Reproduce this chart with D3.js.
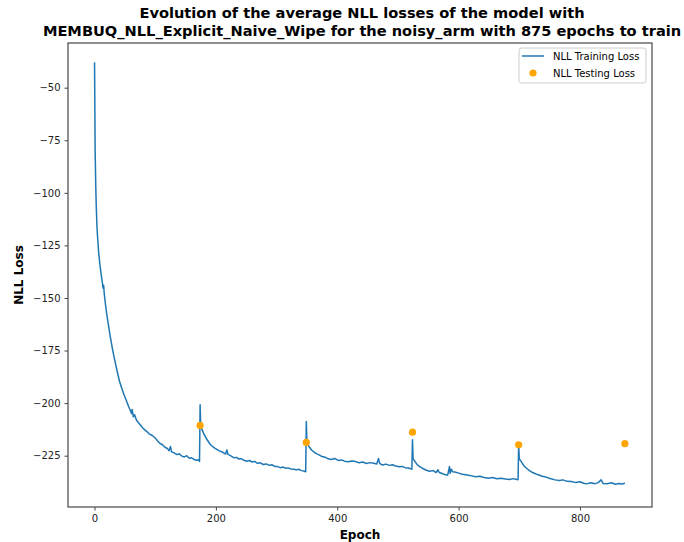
<!DOCTYPE html>
<html>
<head>
<meta charset="utf-8">
<script src="https://cdn.jsdelivr.net/npm/d3@7"></script>
<style>
  body { margin: 0; background: #fff; }
  svg { font-family: "DejaVu Sans", sans-serif; }
</style>
</head>
<body>
<div class="chartBox"></div>
<script>
// training loss (epoch / value)
var trainEpochs = [0, 1, 2, 3, 4, 5, 7, 9, 11, 13, 14, 15, 16, 18, 20, 23, 26, 30, 34, 37,
    41, 45, 48, 52, 56, 59, 61, 62, 64, 66, 69, 72, 76, 80, 85, 90, 95, 100, 104, 108,
    112, 116, 120, 123, 125, 127, 131, 135, 140, 144, 148, 152, 156, 160, 164, 168, 171, 173, 174, 175,
    177, 180, 185, 191, 198, 205, 212, 216, 218, 220, 224, 230, 234, 238, 242, 246, 251, 255, 260, 264,
    268, 273, 278, 283, 288, 292, 297, 301, 306, 311, 315, 319, 324, 328, 333, 337, 341, 345, 348, 349,
    350, 353, 358, 364, 370, 375, 380, 385, 390, 396, 402, 407, 412, 418, 424, 430, 436, 442, 448, 454,
    460, 465, 468, 470, 475, 480, 486, 491, 496, 502, 507, 512, 517, 521, 523, 524, 525, 528, 532, 538,
    545, 552, 558, 563, 566, 568, 573, 578, 582, 585, 586, 588, 590, 594, 600, 606, 612, 618, 622, 628,
    635, 642, 649, 656, 663, 670, 677, 684, 690, 696, 698, 699, 700, 703, 708, 715, 722, 731, 738, 745,
    752, 759, 766, 772, 779, 786, 793, 800, 806, 811, 818, 825, 830, 835, 838, 845, 852, 858, 865, 870, 874];
var trainLoss = [-37.9, -80, -97, -108, -116, -121, -129, -134.5, -139, -143, -145.3, -144, -148, -153, -157.5, -163, -168.5, -175, -180.5, -184.5,
    -189.5, -193, -195.5, -198.5, -201.5, -203.5, -205, -203, -206.5, -205.5, -208, -209.2, -210.5, -212, -213.2, -214.6, -215.4, -216.6, -218, -219.2,
    -219.8, -221, -221.6, -222.6, -220.6, -223.2, -223.6, -224.4, -224.2, -225.2, -225.6, -225, -226.2, -226, -226.8, -227.2, -226.9, -227.7, -200.8, -211,
    -212.5, -214.5, -217.2, -219.8, -221.4, -222.6, -223.5, -224.2, -222.3, -224.4, -225, -226, -225.8, -226.6, -226.4, -227.2, -227.6, -227.3, -228, -227.7,
    -228.6, -228.4, -229.2, -228.9, -229.6, -229.3, -230.1, -230.1, -230.7, -230.4, -231, -230.8, -231.3, -231.4, -231.7, -231.5, -232.1, -232.3, -232.6, -208.7,
    -218.5, -220.5, -222.4, -223.8, -224.6, -225.4, -225.7, -226.5, -226.8, -226.3, -227.3, -227, -227.6, -227.9, -227.5, -227.8, -228.4, -228, -228.7, -228.3,
    -228.6, -228.9, -226.3, -228.8, -229.4, -229, -229.6, -229.3, -229.9, -230.3, -230.1, -230.7, -230.9, -231.2, -231.4, -217.4, -226.5, -227.7, -229.4, -230.6,
    -231.7, -232.4, -232.1, -233, -231.7, -233, -233.5, -234.1, -234.2, -230.1, -233.4, -231.4, -232.6, -232.8, -233.3, -233.8, -234.1, -234.4, -234.6, -235,
    -234.8, -235.4, -235.7, -235.4, -236, -235.7, -236.1, -236.3, -235.9, -236.3, -236.4, -219.8, -226.5, -227.7, -230, -231.7, -233, -234.1, -234.8, -235.3,
    -236, -236.5, -236.8, -236.5, -237.2, -237.3, -237.8, -237.4, -238.1, -238.4, -237.9, -238.3, -237.8, -236.5, -238.2, -238.3, -237.9, -238.6, -238.2, -238.5, -238];

// testing loss (one point every 175 epochs)
var testEpochs = [174, 349, 524, 699, 874];
var testLoss = [-210.6, -218.7, -213.8, -219.8, -219.3];

var xTicks = [0, 200, 400, 600, 800];
var yTicks = [-50, -75, -100, -125, -150, -175, -200, -225];

var width = 684, height = 542;
var margin = { top: 43, right: 32, bottom: 35, left: 68 };

var svg = d3.select('.chartBox')
    .append('svg')
    .attr('width', width)
    .attr('height', height);

var x = d3.scaleLinear()
    .domain([-43.75, 918.75])
    .range([margin.left, width - margin.right]);

var y = d3.scaleLinear()
    .domain([-249.4, -28.75])
    .range([height - margin.bottom, margin.top]);

// title
var title = svg.append('text')
    .attr('text-anchor', 'middle')
    .style('font-size', '14.6px')
    .style('font-weight', 'bold')
    .attr('fill', '#000');
title.append('tspan').attr('x', 362).attr('y', 18)
    .text('Evolution of the average NLL losses of the model with');
title.append('tspan').attr('x', 362).attr('y', 36)
    .text('MEMBUQ_NLL_Explicit_Naive_Wipe for the noisy_arm with 875 epochs to train');

// axes
svg.append('g')
    .attr('transform', 'translate(0,' + (height - margin.bottom) + ')')
    .call(d3.axisBottom(x).tickValues(xTicks).tickSize(3.5).tickPadding(4));

svg.append('g')
    .attr('transform', 'translate(' + margin.left + ',0)')
    .call(d3.axisLeft(y).tickValues(yTicks).tickSize(3.5).tickPadding(4));

svg.selectAll('.tick text')
    .style('font-size', '10px')
    .style('font-family', '"DejaVu Sans", sans-serif')
    .attr('fill', '#222');
svg.selectAll('.tick line').attr('stroke', '#444');
svg.selectAll('.domain').remove();

// frame
svg.append('rect')
    .attr('x', margin.left)
    .attr('y', margin.top)
    .attr('width', width - margin.left - margin.right)
    .attr('height', height - margin.top - margin.bottom)
    .attr('fill', 'none')
    .attr('stroke', '#555')
    .attr('stroke-width', 1.3);

// axis labels
svg.append('text')
    .attr('x', 360)
    .attr('y', 539)
    .attr('text-anchor', 'middle')
    .style('font-size', '12px')
    .style('font-weight', 'bold')
    .text('Epoch');

svg.append('text')
    .attr('transform', 'translate(23,' + ((margin.top + height - margin.bottom) / 2) + ') rotate(-90)')
    .attr('text-anchor', 'middle')
    .style('font-size', '12px')
    .style('font-weight', 'bold')
    .text('NLL Loss');

// training line
var train = trainEpochs.map(function (e, i) { return { epoch: e, loss: trainLoss[i] }; });
var line = d3.line()
    .x(function (d) { return x(d.epoch); })
    .y(function (d) { return y(d.loss); });

svg.append('path')
    .datum(train)
    .attr('d', line)
    .attr('fill', 'none')
    .attr('stroke', '#1f77b4')
    .attr('stroke-width', 1.5)
    .attr('stroke-linejoin', 'round');

// testing points
var test = testEpochs.map(function (e, i) { return { epoch: e, loss: testLoss[i] }; });
svg.selectAll('.testDot')
    .data(test)
    .enter().append('circle')
    .attr('class', 'testDot')
    .attr('cx', function (d) { return x(d.epoch); })
    .attr('cy', function (d) { return y(d.loss); })
    .attr('r', 3.6)
    .attr('fill', 'orange');

// legend
var legend = svg.append('g');
legend.append('rect')
    .attr('x', 519).attr('y', 48)
    .attr('width', 127).attr('height', 35)
    .attr('rx', 2.5)
    .attr('fill', 'white')
    .attr('fill-opacity', 0.8)
    .attr('stroke', '#ccc');
legend.append('line')
    .attr('x1', 522).attr('x2', 544)
    .attr('y1', 56).attr('y2', 56)
    .attr('stroke', '#1f77b4')
    .attr('stroke-width', 1.5);
legend.append('circle')
    .attr('cx', 533).attr('cy', 73)
    .attr('r', 3.6)
    .attr('fill', 'orange');
legend.append('text')
    .attr('x', 553).attr('y', 60)
    .style('font-size', '10px')
    .text('NLL Training Loss');
legend.append('text')
    .attr('x', 553).attr('y', 77)
    .style('font-size', '10px')
    .text('NLL Testing Loss');
</script>
</body>
</html>
